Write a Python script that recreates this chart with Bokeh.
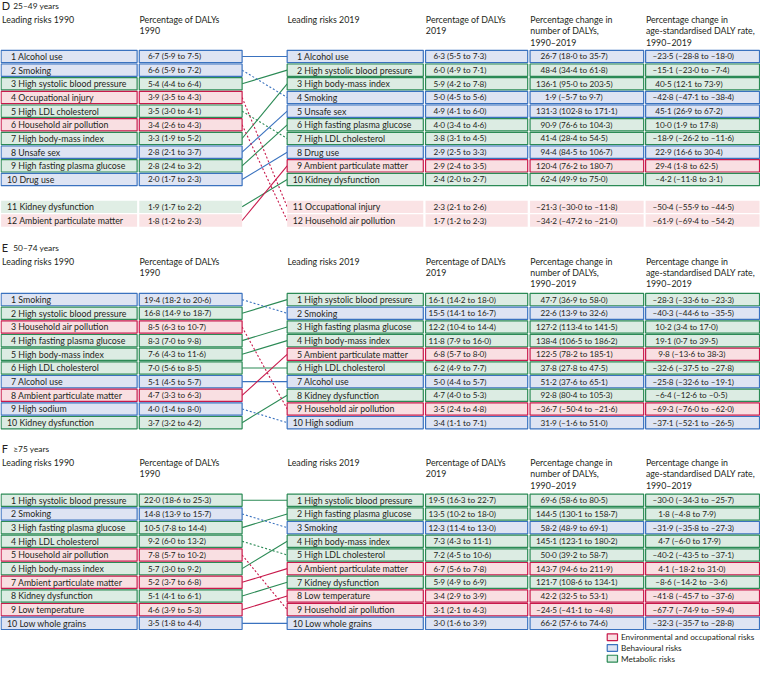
from bokeh.plotting import figure
from bokeh.models import ColumnDataSource, Range1d
from bokeh.core.properties import value
from bokeh.embed import file_html
from bokeh.resources import INLINE

FONT = "Lato"
TXT = "#231f20"

# ---------------- data ----------------
# categories: E = environmental/occupational, B = behavioural, M = metabolic
D_1990_NAMES = ["Alcohol use", "Smoking", "High systolic blood pressure", "Occupational injury",
                "High LDL cholesterol", "Household air pollution", "High body-mass index", "Unsafe sex",
                "High fasting plasma glucose", "Drug use", "Kidney dysfunction", "Ambient particulate matter"]
D_1990_CATS = ["B", "B", "M", "E", "M", "E", "M", "B", "M", "B", "M", "E"]
D_1990_PCT = ["6·7 (5·9 to 7·5)", "6·6 (5·9 to 7·2)", "5·4 (4·4 to 6·4)", "3·9 (3·5 to 4·3)",
              "3·5 (3·0 to 4·1)", "3·4 (2·6 to 4·3)", "3·3 (1·9 to 5·2)", "2·8 (2·1 to 3·7)",
              "2·8 (2·4 to 3·2)", "2·0 (1·7 to 2·3)", "1·9 (1·7 to 2·2)", "1·8 (1·2 to 2·3)"]
D_2019_NAMES = ["Alcohol use", "High systolic blood pressure", "High body-mass index", "Smoking",
                "Unsafe sex", "High fasting plasma glucose", "High LDL cholesterol", "Drug use",
                "Ambient particulate matter", "Kidney dysfunction", "Occupational injury", "Household air pollution"]
D_2019_CATS = ["B", "M", "M", "B", "B", "M", "M", "B", "E", "M", "E", "E"]
D_2019_PCT = ["6·3 (5·5 to 7·3)", "6·0 (4·9 to 7·1)", "5·9 (4·2 to 7·8)", "5·0 (4·5 to 5·6)",
              "4·9 (4·1 to 6·0)", "4·0 (3·4 to 4·6)", "3·8 (3·1 to 4·5)", "2·9 (2·5 to 3·3)",
              "2·9 (2·4 to 3·5)", "2·4 (2·0 to 2·7)", "2·3 (2·1 to 2·6)", "1·7 (1·2 to 2·3)"]
D_CHANGE_NUM = ["26·7 (18·0 to 35·7)", "48·4 (34·4 to 61·8)", "136·1 (95·0 to 203·5)", "1·9 (–5·7 to 9·7)",
                "131·3 (102·8 to 171·1)", "90·9 (76·6 to 104·3)", "41·4 (28·4 to 54·5)", "94·4 (84·5 to 106·7)",
                "120·4 (76·2 to 180·7)", "62·4 (49·9 to 75·0)", "–21·3 (–30·0 to –11·8)", "–34·2 (–47·2 to –21·0)"]
D_CHANGE_RATE = ["–23·5 (–28·8 to –18·0)", "–15·1 (–23·0 to –7·4)", "40·5 (12·1 to 73·9)", "–42·8 (–47·1 to –38·4)",
                 "45·1 (26·9 to 67·2)", "10·0 (1·9 to 17·8)", "–18·9 (–26·2 to –11·6)", "22·9 (16·6 to 30·4)",
                 "29·4 (1·8 to 62·5)", "–4·2 (–11·8 to 3·1)", "–50·4 (–55·9 to –44·5)", "–61·9 (–69·4 to –54·2)"]

E_1990_NAMES = ["Smoking", "High systolic blood pressure", "Household air pollution", "High fasting plasma glucose",
                "High body-mass index", "High LDL cholesterol", "Alcohol use", "Ambient particulate matter",
                "High sodium", "Kidney dysfunction"]
E_1990_CATS = ["B", "M", "E", "M", "M", "M", "B", "E", "B", "M"]
E_1990_PCT = ["19·4 (18·2 to 20·6)", "16·8 (14·9 to 18·7)", "8·5 (6·3 to 10·7)", "8·3 (7·0 to 9·8)",
              "7·6 (4·3 to 11·6)", "7·0 (5·6 to 8·5)", "5·1 (4·5 to 5·7)", "4·7 (3·3 to 6·3)",
              "4·0 (1·4 to 8·0)", "3·7 (3·2 to 4·2)"]
E_2019_NAMES = ["High systolic blood pressure", "Smoking", "High fasting plasma glucose", "High body-mass index",
                "Ambient particulate matter", "High LDL cholesterol", "Alcohol use", "Kidney dysfunction",
                "Household air pollution", "High sodium"]
E_2019_CATS = ["M", "B", "M", "M", "E", "M", "B", "M", "E", "B"]
E_2019_PCT = ["16·1 (14·2 to 18·0)", "15·5 (14·1 to 16·7)", "12·2 (10·4 to 14·4)", "11·8 (7·9 to 16·0)",
              "6·8 (5·7 to 8·0)", "6·2 (4·9 to 7·7)", "5·0 (4·4 to 5·7)", "4·7 (4·0 to 5·3)",
              "3·5 (2·4 to 4·8)", "3·4 (1·1 to 7·1)"]
E_CHANGE_NUM = ["47·7 (36·9 to 58·0)", "22·6 (13·9 to 32·6)", "127·2 (113·4 to 141·5)", "138·4 (106·5 to 186·2)",
                "122·5 (78·2 to 185·1)", "37·8 (27·8 to 47·5)", "51·2 (37·6 to 65·1)", "92·8 (80·4 to 105·3)",
                "–36·7 (–50·4 to –21·6)", "31·9 (–1·6 to 51·0)"]
E_CHANGE_RATE = ["–28·3 (–33·6 to –23·3)", "–40·3 (–44·6 to –35·5)", "10·2 (3·4 to 17·0)", "19·1 (0·7 to 39·5)",
                 "9·8 (–13·6 to 38·3)", "–32·6 (–37·5 to –27·8)", "–25·8 (–32·6 to –19·1)", "–6·4 (–12·6 to –0·5)",
                 "–69·3 (–76·0 to –62·0)", "–37·1 (–52·1 to –26·5)"]

F_1990_NAMES = ["High systolic blood pressure", "Smoking", "High fasting plasma glucose", "High LDL cholesterol",
                "Household air pollution", "High body-mass index", "Ambient particulate matter", "Kidney dysfunction",
                "Low temperature", "Low whole grains"]
F_1990_CATS = ["M", "B", "M", "M", "E", "M", "E", "M", "E", "B"]
F_1990_PCT = ["22·0 (18·6 to 25·3)", "14·8 (13·9 to 15·7)", "10·5 (7·8 to 14·4)", "9·2 (6·0 to 13·2)",
              "7·8 (5·7 to 10·2)", "5·7 (3·0 to 9·2)", "5·2 (3·7 to 6·8)", "5·1 (4·1 to 6·1)",
              "4·6 (3·9 to 5·3)", "3·5 (1·8 to 4·4)"]
F_2019_NAMES = ["High systolic blood pressure", "High fasting plasma glucose", "Smoking", "High body-mass index",
                "High LDL cholesterol", "Ambient particulate matter", "Kidney dysfunction", "Low temperature",
                "Household air pollution", "Low whole grains"]
F_2019_CATS = ["M", "M", "B", "M", "M", "E", "M", "E", "E", "B"]
F_2019_PCT = ["19·5 (16·3 to 22·7)", "13·5 (10·2 to 18·0)", "12·3 (11·4 to 13·0)", "7·3 (4·3 to 11·1)",
              "7·2 (4·5 to 10·6)", "6·7 (5·6 to 7·8)", "5·9 (4·9 to 6·9)", "3·4 (2·9 to 3·9)",
              "3·1 (2·1 to 4·3)", "3·0 (1·6 to 3·9)"]
F_CHANGE_NUM = ["69·6 (58·6 to 80·5)", "144·5 (130·1 to 158·7)", "58·2 (48·9 to 69·1)", "145·1 (123·1 to 180·2)",
                "50·0 (39·2 to 58·7)", "143·7 (94·6 to 211·9)", "121·7 (108·6 to 134·1)", "42·2 (32·5 to 53·1)",
                "–24·5 (–41·1 to –4·8)", "66·2 (57·6 to 74·6)"]
F_CHANGE_RATE = ["–30·0 (–34·3 to –25·7)", "1·8 (–4·8 to 7·9)", "–31·9 (–35·8 to –27·3)", "4·7 (–6·0 to 17·9)",
                 "–40·2 (–43·5 to –37·1)", "4·1 (–18·2 to 31·0)", "–8·6 (–14·2 to –3·6)", "–41·8 (–45·7 to –37·6)",
                 "–67·7 (–74·9 to –59·4)", "–32·3 (–35·7 to –28·8)"]

LEGEND_LABELS = ["Environmental and occupational risks", "Behavioural risks", "Metabolic risks"]
LEGEND_CATS = ["E", "B", "M"]

HEAD_1990 = ["Leading risks 1990"]
HEAD_PCT90 = ["Percentage of DALYs", "1990"]
HEAD_2019 = ["Leading risks 2019"]
HEAD_PCT19 = ["Percentage of DALYs", "2019"]
HEAD_NUM = ["Percentage change in", "number of DALYs,", "1990–2019"]
HEAD_RATE = ["Percentage change in", "age-standardised DALY rate,", "1990–2019"]

# ---------------- styling / layout ----------------
LINE_C = {"E": "#c8194b", "B": "#3a72bf", "M": "#2b8a55"}
FILL_C = {"E": "#f9dfe2", "B": "#dee4f3", "M": "#dcece3"}
FILL_C2 = {"E": "#fae3e5", "B": "#e2e8f4", "M": "#e0eee5"}

COLS = {"c1": (0.6, 139.5), "c2": (141.7, 246.7), "c3": (292.7, 431.7),
        "c4": (434.0, 538.3), "c5": (540.7, 656.7), "c6": (658.7, 775.0)}
PITCH = 14.0
ROW_H = 12.6
HEAD_LEAD = 11.6
LABEL_FS = "8.8px"
NUM_FS = "8.2px"
HEAD_FS = "8.8px"

SECTIONS = [
    dict(letter="D", age="25–49 years", title_y=5.5, header_y=19.5, row_top=51.0,
         n90=D_1990_NAMES, c90=D_1990_CATS, v90=D_1990_PCT,
         n19=D_2019_NAMES, c19=D_2019_CATS, v19=D_2019_PCT, num=D_CHANGE_NUM, rate=D_CHANGE_RATE),
    dict(letter="E", age="50–74 years", title_y=253.0, header_y=267.0, row_top=300.0,
         n90=E_1990_NAMES, c90=E_1990_CATS, v90=E_1990_PCT,
         n19=E_2019_NAMES, c19=E_2019_CATS, v19=E_2019_PCT, num=E_CHANGE_NUM, rate=E_CHANGE_RATE),
    dict(letter="F", age="≥75 years", title_y=458.5, header_y=473.0, row_top=505.5,
         n90=F_1990_NAMES, c90=F_1990_CATS, v90=F_1990_PCT,
         n19=F_2019_NAMES, c19=F_2019_CATS, v19=F_2019_PCT, num=F_CHANGE_NUM, rate=F_CHANGE_RATE),
]


def int_len(s):
    return len(s.split(" ")[0].split("·")[0])


def num_pad(col, s):
    L = int_len(s)
    if col == "c2":
        return 4.7 + 4.2 * (2 - L)
    if col == "c4":
        return 3.0 + 5.0 * (2 - L)
    if col == "c5":
        return 6.0 + 4.6 * (3 - L)
    return 7.0 + 2.9 * (3 - L)


p = figure(width=760, height=666, output_backend="svg", toolbar_location=None,
           x_range=Range1d(0, 776), y_range=Range1d(682, 0), min_border=0)
p.axis.visible = False
p.grid.visible = False
p.outline_line_color = None
p.background_fill_color = "white"

boxes = dict(left=[], right=[], top=[], bottom=[], fill=[], line=[], la=[])
lab = dict(x=[], y=[], text=[])
num = dict(x=[], y=[], text=[])
head = dict(x=[], y=[], text=[])
big = dict(x=[], y=[], text=[])
small = dict(x=[], y=[], text=[])
seg_solid = dict(x0=[], y0=[], x1=[], y1=[], c=[])
seg_dash = dict(x0=[], y0=[], x1=[], y1=[], c=[])


def slot(i):
    return i if i < 10 else i + 1


for s in SECTIONS:
    big["x"].append(1.2); big["y"].append(s["title_y"]); big["text"].append(s["letter"])
    small["x"].append(13.0); small["y"].append(s["title_y"] + 0.6); small["text"].append(s["age"])
    for col, lines in (("c1", HEAD_1990), ("c2", HEAD_PCT90), ("c3", HEAD_2019),
                       ("c4", HEAD_PCT19), ("c5", HEAD_NUM), ("c6", HEAD_RATE)):
        for k, t in enumerate(lines):
            head["x"].append(COLS[col][0] + (1.0 if col == "c1" else 0.3))
            head["y"].append(s["header_y"] + k * HEAD_LEAD)
            head["text"].append(t)

    def add_row(i, cat, cells):
        top = s["row_top"] + slot(i) * PITCH
        yc = top + ROW_H / 2
        bordered = i < 10
        for col, txt, kind in cells:
            l, r = COLS[col]
            boxes["left"].append(l); boxes["right"].append(r)
            boxes["top"].append(top); boxes["bottom"].append(top + ROW_H)
            boxes["fill"].append(FILL_C[cat] if bordered else FILL_C2[cat])
            boxes["line"].append(LINE_C[cat]); boxes["la"].append(1.0 if bordered else 0.0)
            if kind == "label":
                rank = i + 1
                pad = (10.0 if rank < 10 else 6.0) if col == "c1" else (10.0 if rank < 10 else 5.6)
                lab["x"].append(l + pad); lab["y"].append(yc); lab["text"].append(f"{rank} {txt}")
            else:
                num["x"].append(l + num_pad(col, txt)); num["y"].append(yc); num["text"].append(txt)
        return yc

    y90 = {}
    for i, (n, c, v) in enumerate(zip(s["n90"], s["c90"], s["v90"])):
        y90[n] = (i, add_row(i, c, [("c1", n, "label"), ("c2", v, "num")]), c)
    y19 = {}
    for i, (n, c, v, a, b) in enumerate(zip(s["n19"], s["c19"], s["v19"], s["num"], s["rate"])):
        y19[n] = (i, add_row(i, c, [("c3", n, "label"), ("c4", v, "num"), ("c5", a, "num"), ("c6", b, "num")]))

    for n, (i0, ya, c) in y90.items():
        i1, yb = y19[n]
        d = seg_dash if i1 > i0 else seg_solid
        d["x0"].append(COLS["c2"][1]); d["y0"].append(ya)
        d["x1"].append(COLS["c3"][0]); d["y1"].append(yb)
        d["c"].append(LINE_C[c])

p.segment("x0", "y0", "x1", "y1", source=ColumnDataSource(seg_solid), line_color="c", line_width=1.1)
p.segment("x0", "y0", "x1", "y1", source=ColumnDataSource(seg_dash), line_color="c", line_width=1.1,
          line_dash="2 2")
p.quad(left="left", right="right", top="top", bottom="bottom", source=ColumnDataSource(boxes),
       fill_color="fill", line_color="line", line_alpha="la", line_width=1.2)

common = dict(text_font=value(FONT), text_baseline="middle", text_align="left", text_color=TXT)
p.text("x", "y", "text", source=ColumnDataSource(lab), text_font_size=LABEL_FS, **common)
p.text("x", "y", "text", source=ColumnDataSource(num), text_font_size=NUM_FS, **common)
p.text("x", "y", "text", source=ColumnDataSource(head), text_font_size=HEAD_FS, **common)
p.text("x", "y", "text", source=ColumnDataSource(big), text_font_size="11px", **common)
p.text("x", "y", "text", source=ColumnDataSource(small), text_font_size="8.4px", **common)

# legend
leg_y = [652.0 + k * 11.0 for k in range(len(LEGEND_LABELS))]
p.quad(left=[619.5] * 3, right=[630.0] * 3, top=[y - 3.5 for y in leg_y], bottom=[y + 3.5 for y in leg_y],
       fill_color=[FILL_C[c] for c in LEGEND_CATS], line_color=[LINE_C[c] for c in LEGEND_CATS], line_width=1.2)
p.text(x=[633.5] * 3, y=leg_y, text=LEGEND_LABELS, text_font_size="8.2px", **common)

open("out.html", "w").write(file_html(p, INLINE))
